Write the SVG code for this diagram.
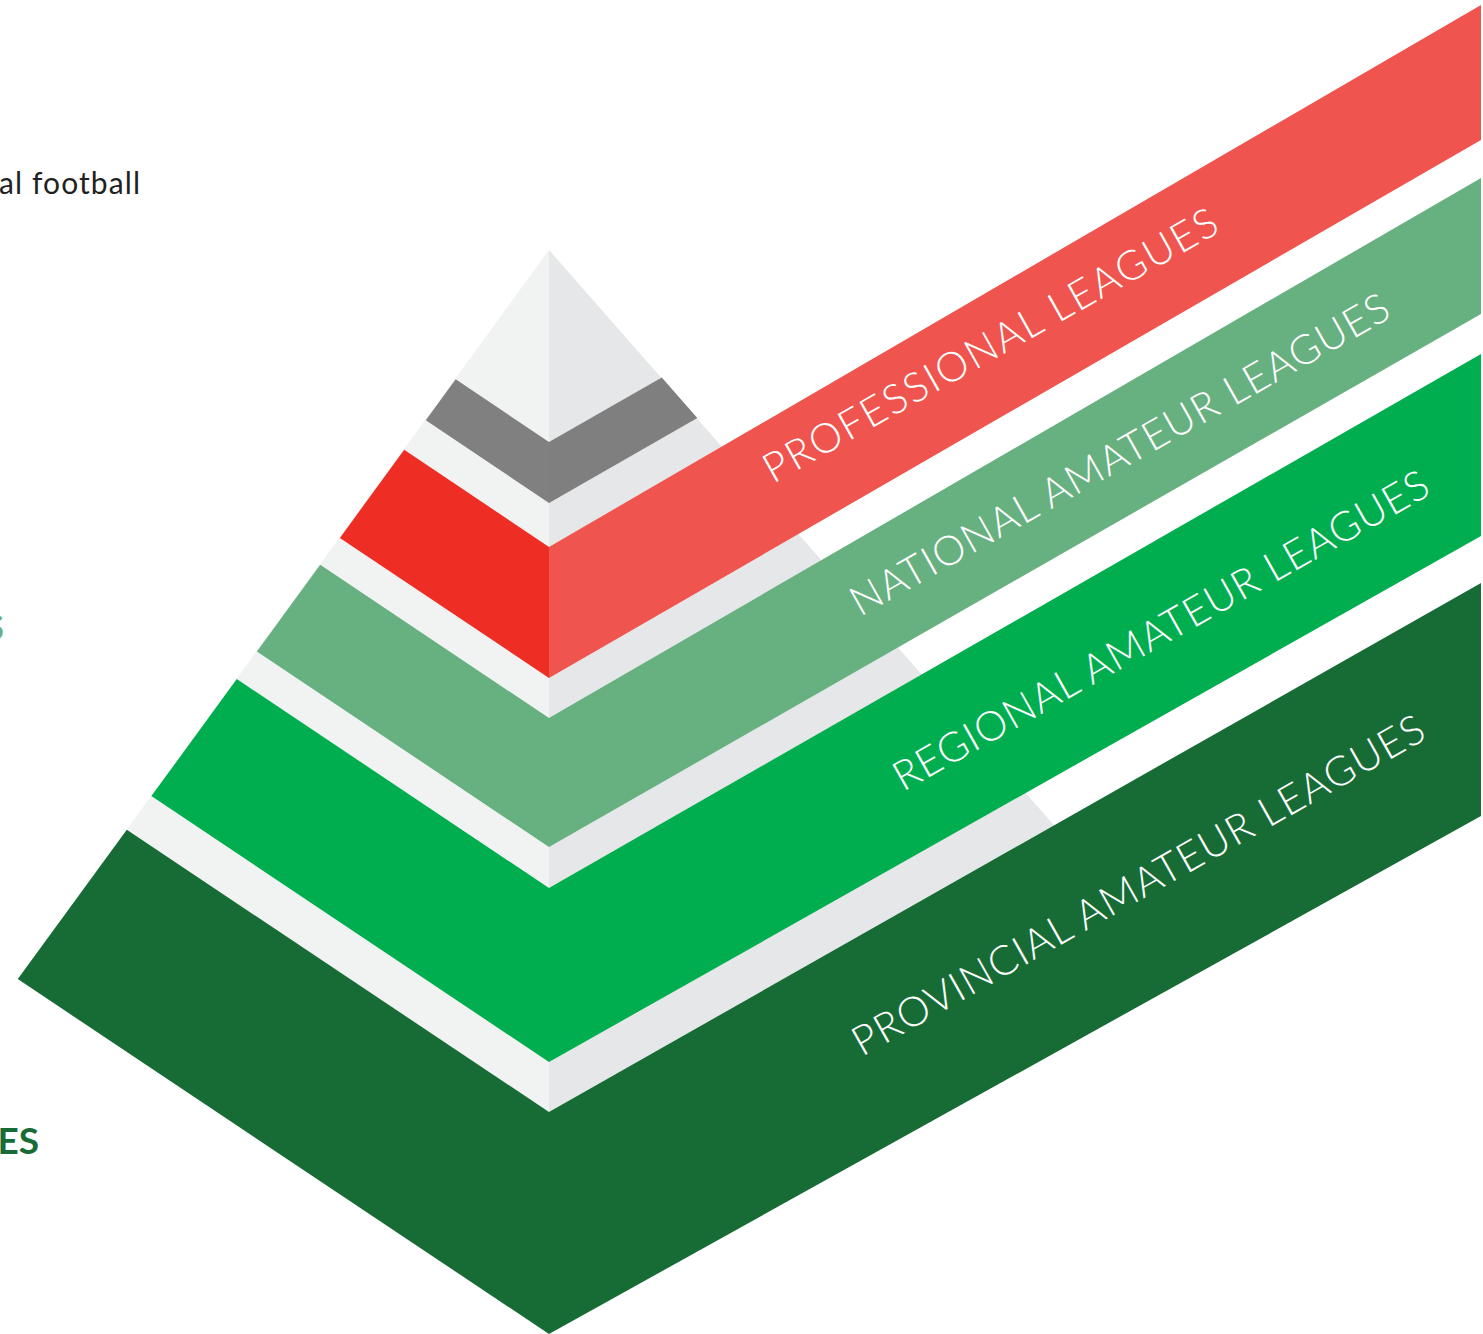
<svg xmlns="http://www.w3.org/2000/svg" width="1483" height="1334" viewBox="0 0 1483 1334">
<style>
.band-label{font-family:Lato,"Open Sans","Liberation Sans",sans-serif;font-weight:300;font-size:41px;fill:#FFFFFF;}
.side{font-family:Lato,"Liberation Sans",sans-serif;}
</style>
<rect width="1483" height="1334" fill="#FFFFFF"/>
<g id="side-texts">
<text class="side" x="-1" y="194" font-size="30" fill="#231F20" textLength="141" lengthAdjust="spacing">al football</text>
<text class="side" x="4" y="640" font-size="34" font-weight="700" fill="#67B080" text-anchor="end">ES</text>
<text class="side" x="39" y="1154" font-size="37" font-weight="700" fill="#176C36" text-anchor="end">ES</text>
</g>
<g id="pyramid-body">
<polygon points="549,250 17.8,979 549,1334" fill="#F1F2F2"/>
<polygon points="549,250 1060,832 549,1200" fill="#E6E7E8"/>
</g>
<g id="top-band">
<polygon points="455.7,379.2 549,442 549,503 425.8,420.2" fill="#808080"/>
<polygon points="549,442 661.8,377.5 697.3,418 549,503" fill="#7F7F7F"/>
</g>
<g id="professional">
<polygon points="404.2,449.7 549,547 549,678 339.9,537.9" fill="#EE2D24"/>
<polygon points="549,547 1481,5 1481,140 549,678" fill="#F0544E"/>
<text class="band-label" transform="translate(773,484) rotate(-29.4)" textLength="515" lengthAdjust="spacing">PROFESSIONAL LEAGUES</text>
</g>
<g id="national">
<polygon points="320.2,564.8 549,718 549,847 256.9,651.5" fill="#67B080"/>
<polygon points="549,718 1481,178 1481,314 549,847" fill="#67B080"/>
<text class="band-label" transform="translate(860,617) rotate(-29.4)" textLength="612" lengthAdjust="spacing">NATIONAL AMATEUR LEAGUES</text>
</g>
<g id="regional">
<polygon points="236.8,679.1 549,888 549,1062 151.4,796.1" fill="#00AE4F"/>
<polygon points="549,888 1481,354 1481,536 549,1062" fill="#00AE4F"/>
<text class="band-label" transform="translate(903,792) rotate(-29.4)" textLength="608" lengthAdjust="spacing">REGIONAL AMATEUR LEAGUES</text>
</g>
<g id="provincial">
<polygon points="126.8,829.8 549,1112 549,1334 17.8,979.1" fill="#176C36"/>
<polygon points="549,1112 1481,583 1481,816 549,1334" fill="#176C36"/>
<text class="band-label" transform="translate(862,1057) rotate(-29.4)" textLength="650" lengthAdjust="spacing">PROVINCIAL AMATEUR LEAGUES</text>
</g>
<g id="connectors"/>
</svg>
